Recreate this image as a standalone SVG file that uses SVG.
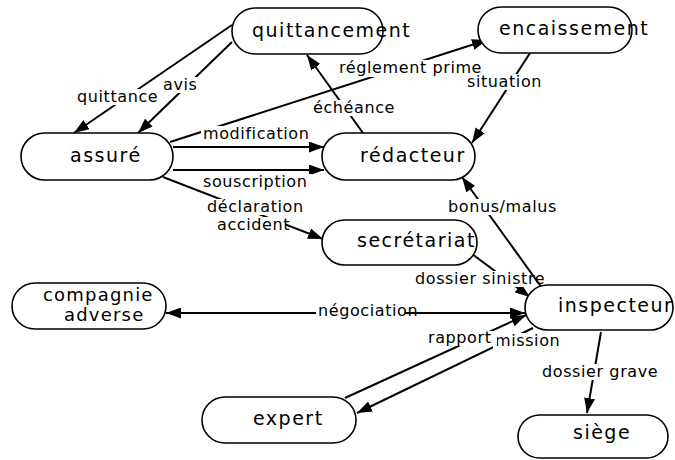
<svg xmlns="http://www.w3.org/2000/svg" width="675" height="460" viewBox="0 0 675 460">
<style>
.node rect{fill:#fff;stroke:#000;stroke-width:1.6}
.node text{font-family:"DejaVu Sans",Verdana,sans-serif;font-size:19px;letter-spacing:1.5px;fill:#000}
.edge path{fill:none;stroke:#000;stroke-width:2;marker-end:url(#arr)}
.edge rect{fill:#fff;stroke:none}
.edge text{font-family:"DejaVu Sans",Verdana,sans-serif;font-size:16px;letter-spacing:0.6px;fill:#000}
</style>
<defs>
<marker id="arr" viewBox="0 0 15 11" refX="15" refY="5.5" markerWidth="15" markerHeight="11" markerUnits="userSpaceOnUse" orient="auto-start-reverse">
<path d="M0,0 L15,5.5 L0,11 z" fill="#000"/>
</marker>
</defs>
<rect width="675" height="460" fill="#fff"/>
<g id="connectors">
<g class="edge" id="e-quittance"><path d="M232,25 L74,133"/><rect x="75" y="89" width="80" height="16"/><text x="77" y="102">quittance</text></g>
<g class="edge" id="e-avis"><path d="M232,42 L138,133"/><rect x="161" y="77" width="38" height="16"/><text x="163" y="90">avis</text></g>
<g class="edge" id="e-reglement"><path d="M170,142 L487,40"/><rect x="337" y="60" width="148" height="17"/><text x="339" y="73">réglement prime</text></g>
<g class="edge" id="e-echeance"><path d="M363,133 L307,55"/><rect x="311" y="100" width="76" height="16"/><text x="313" y="113">échéance</text></g>
<g class="edge" id="e-situation"><path d="M530,53 L472,143"/><rect x="465" y="74" width="79" height="16"/><text x="467" y="87">situation</text></g>
<g class="edge" id="e-modification"><path d="M173,147 L324,147"/><rect x="201" y="126" width="109" height="16"/><text x="203" y="139">modification</text></g>
<g class="edge" id="e-souscription"><path d="M173,170 L324,170"/><rect x="201" y="174" width="111" height="17"/><text x="203" y="187">souscription</text></g>
<g class="edge" id="e-declaration"><path d="M163,177 L323,239"/><rect x="205" y="199" width="99" height="16"/><rect x="215" y="217" width="70" height="16"/><text x="207" y="212">déclaration</text><text x="217" y="230">accident</text></g>
<g class="edge" id="e-sinistre"><path d="M472,254 L530,297"/><rect x="413" y="271" width="137" height="16"/><text x="415" y="284">dossier sinistre</text></g>
<g class="edge" id="e-bonus"><path d="M542,288 L462,177"/><rect x="446" y="199" width="113" height="16"/><text x="448" y="212">bonus/malus</text></g>
<g class="edge" id="e-negociation"><path d="M166,313 L525,313" style="marker-start:url(#arr)"/><rect x="316" y="303" width="89" height="16"/><text x="318" y="316">négociation</text></g>
<g class="edge" id="e-mission"><path d="M533,328 L357,413"/><rect x="493" y="333" width="69" height="16"/><text x="495" y="346">mission</text></g>
<g class="edge" id="e-rapport"><path d="M345,398 L526,315"/><rect x="426" y="331" width="71" height="15"/><text x="428" y="343">rapport</text></g>
<g class="edge" id="e-grave"><path d="M601,332 L587,413"/><rect x="540" y="364" width="119" height="16"/><text x="542" y="377">dossier grave</text></g>
</g>
<g class="node" id="quittancement"><rect x="232" y="8" width="151" height="46" rx="23"/><text x="252" y="37">quittancement</text></g>
<g class="node" id="encaissement"><rect x="478" y="7" width="154" height="46" rx="23"/><text x="499" y="35">encaissement</text></g>
<g class="node" id="assure"><rect x="21" y="133" width="152" height="47" rx="23.5"/><text x="70" y="162">assuré</text></g>
<g class="node" id="redacteur"><rect x="322" y="133" width="153" height="47" rx="23.5"/><text x="360" y="162">rédacteur</text></g>
<g class="node" id="secretariat"><rect x="322" y="220" width="155" height="45" rx="22.5"/><text x="357" y="247">secrétariat</text></g>
<g class="node" id="compagnie"><rect x="12" y="283" width="154" height="46" rx="23"/><text x="43" y="301" style="font-size:18px;letter-spacing:1.2px">compagnie</text><text x="64" y="321" style="font-size:18px;letter-spacing:1.2px">adverse</text></g>
<g class="node" id="inspecteur"><rect x="525" y="285" width="148" height="45" rx="22.5"/><text x="558" y="312">inspecteur</text></g>
<g class="node" id="expert"><rect x="202" y="397" width="154" height="46" rx="23"/><text x="253" y="425">expert</text></g>
<g class="node" id="siege"><rect x="518" y="415" width="150" height="43" rx="21.5"/><text x="573" y="439">siège</text></g>
</svg>
